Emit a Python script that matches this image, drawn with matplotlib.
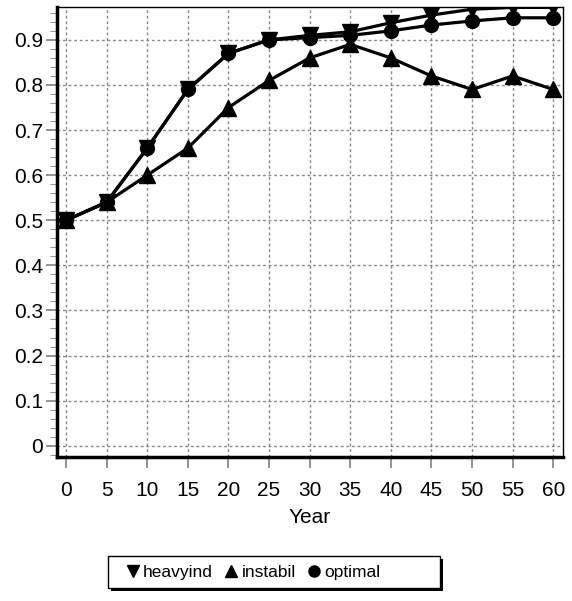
import numpy as np
import matplotlib
matplotlib.use("Agg")
import matplotlib.pyplot as plt
from matplotlib.ticker import MultipleLocator
from matplotlib.patches import Rectangle

plt.rcParams['font.family'] = ['Liberation Sans', 'DejaVu Sans']

years = [0, 5, 10, 15, 20, 25, 30, 35, 40, 45, 50, 55, 60]
heavyind = [0.50, 0.54, 0.66, 0.79, 0.87, 0.90, 0.91, 0.918, 0.938, 0.955, 0.968, 0.972, 0.972]
instabil = [0.50, 0.54, 0.60, 0.66, 0.75, 0.81, 0.86, 0.89, 0.86, 0.82, 0.79, 0.82, 0.79]
optimal = [0.50, 0.54, 0.66, 0.79, 0.87, 0.90, 0.905, 0.91, 0.92, 0.933, 0.942, 0.949, 0.949]
ylabels = ['0', '0.1', '0.2', '0.3', '0.4', '0.5', '0.6', '0.7', '0.8', '0.9']

W, H = 572, 601
fig = plt.figure(figsize=(W / 100, H / 100), dpi=100)
ax = fig.add_axes([0.0997, 0.2396, 0.8846, 0.7488])

ax.plot(years, heavyind, color='black', lw=2.3, marker='v', ms=11, label='heavyind')
ax.plot(years, instabil, color='black', lw=2.3, marker='^', ms=11, label='instabil')
ax.plot(years, optimal, color='black', lw=2.3, marker='o', ms=10, label='optimal')

ax.set_xlim(-1.11, 61.2)
ax.set_ylim(-0.025, 0.973)
ax.set_xticks(np.arange(0, 61, 5))
ax.set_yticks(np.arange(0, 0.91, 0.1))
ax.set_yticklabels(ylabels)
ax.yaxis.set_minor_locator(MultipleLocator(0.02))
ax.tick_params(axis='both', labelsize=15, direction='out', length=8, width=1.2, color='gray')
ax.tick_params(axis='x', pad=9)
ax.tick_params(axis='y', pad=2)
ax.tick_params(axis='y', which='minor', length=5, color='gray')
ax.grid(True, color='#888888', linestyle=(0, (2, 2)), lw=1)
ax.set_axisbelow(True)

ax.spines['left'].set_linewidth(2.5)
ax.spines['bottom'].set_linewidth(2.5)
ax.spines['top'].set_linewidth(1)
ax.spines['right'].set_linewidth(1)

ax.set_xlabel('Year', fontsize=15, labelpad=6)

# legend box drawn by hand: wider than its entries, solid black shadow
bx, by, bw, bh = 108, 556, 332, 32
fig.add_artist(Rectangle(((bx + 3) / W, 1 - (by + bh + 3) / H), bw / W, bh / H,
                         transform=fig.transFigure, facecolor='black', edgecolor='none', zorder=1))
fig.add_artist(Rectangle((bx / W, 1 - (by + bh) / H), bw / W, bh / H,
                         transform=fig.transFigure, facecolor='white', edgecolor='black', lw=1, zorder=2))

leg = fig.legend(loc='center left', bbox_to_anchor=(118 / W, 1 - (by + bh / 2) / H), ncol=3,
                 frameon=False, fontsize=12.5, handlelength=0.7, handletextpad=0.25,
                 columnspacing=0.7, markerscale=0.8, borderpad=0)
leg.set_zorder(3)
for h in leg.legend_handles:
    h.set_linestyle('None')

fig.savefig('out.png', dpi=100)
